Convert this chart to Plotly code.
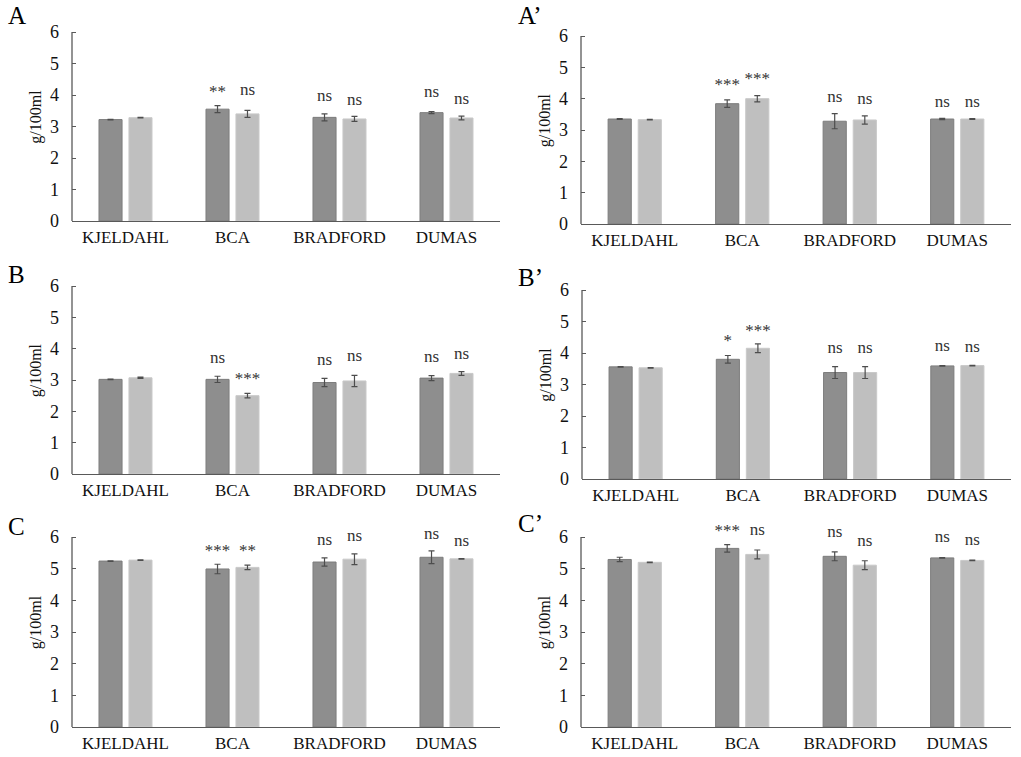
import plotly.graph_objects as go

W, H = 1021, 757

categories = ["KJELDAHL", "BCA", "BRADFORD", "DUMAS"]
panel_names = ["A", "A\u2019", "B", "B\u2019", "C", "C\u2019"]

# values (dark series, light series) and errors per panel
dark_A = [3.22, 3.55, 3.29, 3.44]
light_A = [3.28, 3.40, 3.24, 3.27]
dark_err_A = [0.01, 0.11, 0.11, 0.03]
light_err_A = [0.01, 0.11, 0.08, 0.06]
dark_sig_A = ["", "**", "ns", "ns"]
light_sig_A = ["", "ns", "ns", "ns"]
dark_sig_y_A = [None, 4.18, 3.93, 4.08]
light_sig_y_A = [None, 4.14, 3.82, 3.86]

dark_Ap = [3.35, 3.84, 3.28, 3.35]
light_Ap = [3.33, 4.00, 3.32, 3.35]
dark_err_Ap = [0.01, 0.12, 0.24, 0.02]
light_err_Ap = [0.01, 0.10, 0.13, 0.01]
dark_sig_Ap = ["", "***", "ns", "ns"]
light_sig_Ap = ["", "***", "ns", "ns"]
dark_sig_y_Ap = [None, 4.54, 4.03, 3.87]
light_sig_y_Ap = [None, 4.72, 3.98, 3.87]

dark_B = [3.02, 3.02, 2.92, 3.06]
light_B = [3.07, 2.50, 2.97, 3.21]
dark_err_B = [0.01, 0.10, 0.13, 0.08]
light_err_B = [0.02, 0.07, 0.18, 0.06]
dark_sig_B = ["", "ns", "ns", "ns"]
light_sig_B = ["", "***", "ns", "ns"]
dark_sig_y_B = [None, 3.68, 3.62, 3.70]
light_sig_y_B = [None, 3.13, 3.74, 3.79]

dark_Bp = [3.56, 3.80, 3.38, 3.59]
light_Bp = [3.53, 4.15, 3.38, 3.60]
dark_err_Bp = [0.01, 0.12, 0.19, 0.01]
light_err_Bp = [0.01, 0.14, 0.19, 0.01]
dark_sig_Bp = ["", "*", "ns", "ns"]
light_sig_Bp = ["", "***", "ns", "ns"]
dark_sig_y_Bp = [None, 4.47, 4.14, 4.20]
light_sig_y_Bp = [None, 4.81, 4.14, 4.17]

dark_C = [5.24, 4.99, 5.21, 5.36]
light_C = [5.27, 5.04, 5.30, 5.31]
dark_err_C = [0.01, 0.15, 0.13, 0.20]
light_err_C = [0.01, 0.07, 0.17, 0.01]
dark_sig_C = ["", "***", "ns", "ns"]
light_sig_C = ["", "**", "ns", "ns"]
dark_sig_y_C = [None, 5.65, 5.89, 6.07]
light_sig_y_C = [None, 5.65, 6.00, 5.86]

dark_Cp = [5.29, 5.64, 5.39, 5.34]
light_Cp = [5.20, 5.45, 5.11, 5.26]
dark_err_Cp = [0.07, 0.12, 0.14, 0.01]
light_err_Cp = [0.01, 0.14, 0.14, 0.01]
dark_sig_Cp = ["", "***", "ns", "ns"]
light_sig_Cp = ["", "ns", "ns", "ns"]
dark_sig_y_Cp = [None, 6.28, 6.15, 5.99]
light_sig_y_Cp = [None, 6.20, 5.85, 5.89]

y_ticks = [0, 1, 2, 3, 4, 5, 6]

panels = [
    (dark_A, light_A, dark_err_A, light_err_A, dark_sig_A, light_sig_A, dark_sig_y_A, light_sig_y_A),
    (dark_Ap, light_Ap, dark_err_Ap, light_err_Ap, dark_sig_Ap, light_sig_Ap, dark_sig_y_Ap, light_sig_y_Ap),
    (dark_B, light_B, dark_err_B, light_err_B, dark_sig_B, light_sig_B, dark_sig_y_B, light_sig_y_B),
    (dark_Bp, light_Bp, dark_err_Bp, light_err_Bp, dark_sig_Bp, light_sig_Bp, dark_sig_y_Bp, light_sig_y_Bp),
    (dark_C, light_C, dark_err_C, light_err_C, dark_sig_C, light_sig_C, dark_sig_y_C, light_sig_y_C),
    (dark_Cp, light_Cp, dark_err_Cp, light_err_Cp, dark_sig_Cp, light_sig_Cp, dark_sig_y_Cp, light_sig_y_Cp),
]

# pixel boxes of the plot areas (axis top = value 6): (left, right, top, bottom)
boxes = [
    (72, 500, 32, 221),
    (581, 1011, 36, 224),
    (72, 500, 286, 474),
    (582, 1011, 290, 479),
    (72, 500, 537, 727),
    (581, 1011, 537, 727),
]
label_pos = [(6, 16), (516, 16), (6, 275), (516, 277), (6, 526), (516, 523)]

FONT = "Liberation Serif, Times New Roman, serif"
DARK = "#8e8e8e"
LIGHT = "#bfbfbf"
AXIS = "#595959"
STAR_DROP = 0.12   # asterisk glyphs sit high in the text box
Y_TOP = 6          # visible axis top
Y_HEAD = 6.6       # extra headroom so labels above 6 are not hidden

fig = go.Figure()
annotations = []
shapes = []

for i, (d, l, de, le, ds, ls, dsy, lsy) in enumerate(panels):
    n = i + 1
    xa = "x" if n == 1 else f"x{n}"
    ya = "y" if n == 1 else f"y{n}"
    fig.add_trace(go.Bar(
        x=categories, y=d, xaxis=xa, yaxis=ya, showlegend=False,
        marker=dict(color=DARK, line=dict(color="#7d7d7d", width=1)),
        error_y=dict(type="data", array=de, color="#4d4d4d", thickness=1.2, width=3),
        offsetgroup="a", hoverinfo="skip",
    ))
    fig.add_trace(go.Bar(
        x=categories, y=l, xaxis=xa, yaxis=ya, showlegend=False,
        marker=dict(color=LIGHT, line=dict(color="#c9c9c9", width=1)),
        error_y=dict(type="data", array=le, color="#4d4d4d", thickness=1.2, width=3),
        offsetgroup="b", hoverinfo="skip",
    ))
    for txts, ys, grp in ((ds, dsy, "a"), (ls, lsy, "b")):
        xs, yv, tv = [], [], []
        for c, t, yy in zip(categories, txts, ys):
            if not t:
                continue
            xs.append(c)
            yv.append(yy - STAR_DROP if t.startswith("*") else yy)
            tv.append(t)
        fig.add_trace(go.Scatter(
            x=xs, y=yv, text=tv, mode="text", textposition="middle center",
            textfont=dict(family=FONT, size=17, color="#333"),
            xaxis=xa, yaxis=ya, offsetgroup=grp, cliponaxis=False,
            showlegend=False, hoverinfo="skip",
        ))
    L, R, T, B = boxes[i]
    T_ext = T - (B - T) * (Y_HEAD - Y_TOP) / Y_TOP
    xkey = "xaxis" if n == 1 else f"xaxis{n}"
    ykey = "yaxis" if n == 1 else f"yaxis{n}"
    fig.update_layout({
        xkey: dict(
            domain=[L / W, R / W], anchor=ya, type="category", automargin=False,
            showline=True, linecolor=AXIS, linewidth=1.3, ticks="",
            showgrid=False, tickfont=dict(family=FONT, size=17, color="#111"),
        ),
        ykey: dict(
            domain=[1 - B / H, 1 - T_ext / H], anchor=xa, range=[0, Y_HEAD],
            tickmode="array", tickvals=y_ticks, automargin=False,
            showline=False, ticks="inside",
            ticklen=4, tickcolor=AXIS, tickwidth=1.2, showgrid=False, zeroline=False,
            ticklabelstandoff=12,
            tickfont=dict(family=FONT, size=18, color="#111"),
            title=dict(text="g/100ml", font=dict(family=FONT, size=16, color="#111"), standoff=4),
        ),
    })
    shapes.append(dict(
        type="line", xref=f"{xa} domain", yref=ya, x0=0, x1=0, y0=0, y1=Y_TOP,
        line=dict(color=AXIS, width=1.3), layer="above",
    ))
    px, py = label_pos[i]
    annotations.append(dict(
        x=px / W, y=1 - py / H, xref="paper", yref="paper", text=panel_names[i],
        showarrow=False, xanchor="left", yanchor="middle",
        font=dict(family=FONT, size=25, color="#000"),
    ))

fig.update_layout(
    width=W, height=H, margin=dict(l=0, r=0, t=0, b=0),
    paper_bgcolor="white", plot_bgcolor="white",
    barmode="group", bargap=0.44, bargroupgap=0.23,
    scattermode="group", scattergap=0.44,
    annotations=annotations, shapes=shapes,
)

fig.write_html(
    "out.html",
    config={"displayModeBar": False},
    post_script="document.body.style.margin='0';document.body.style.padding='0';",
)
